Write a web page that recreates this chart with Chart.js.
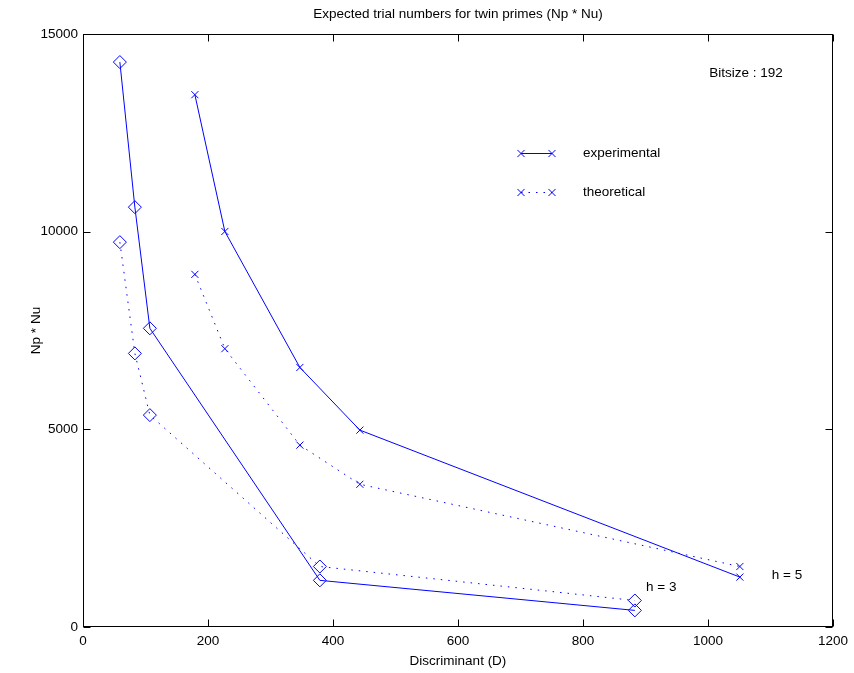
<!DOCTYPE html>
<html>
<head>
<meta charset="utf-8">
<style>
  html, body { margin: 0; padding: 0; background: #fff; }
  canvas { display: block; }
</style>
<script src="https://cdn.jsdelivr.net/npm/chart.js@4/dist/chart.umd.min.js"></script>
</head>
<body>
<canvas id="c" width="854" height="673"></canvas>
<script>
// ---- data ----
const discH3 = [59, 83, 107, 379, 883];
const expH3 = [14290, 10620, 7555, 1180, 420];
const theoH3 = [9735, 6920, 5360, 1530, 670];

const discH5 = [179, 227, 347, 443, 1051];
const expH5 = [13465, 10005, 6565, 4980, 1262];
const theoH5 = [8920, 7040, 4600, 3610, 1530];

const xTicks = [0, 200, 400, 600, 800, 1000, 1200];
const yTicks = [0, 5000, 10000, 15000];

const titleText = 'Expected trial numbers for twin primes (Np * Nu)';
const xTitle = 'Discriminant (D)';
const yTitle = 'Np * Nu';
const legendLabels = ['experimental', 'theoretical'];
const noteText = 'Bitsize : 192';
const hLabels = [{ text: 'h = 3', x: 901, y: 1000 }, { text: 'h = 5', x: 1102, y: 1305 }];

// ---- styling ----
const BLUE = '#0000ff';
const FONT = '"Liberation Sans", Arial, Helvetica, sans-serif';
const FS = 13.5;

function pts(xs, ys) { return xs.map((x, i) => ({ x: x, y: ys[i] })); }

function ds(label, xs, ys, style, dashed, radius) {
  return {
    label: label,
    data: pts(xs, ys),
    showLine: true,
    borderColor: BLUE,
    backgroundColor: 'rgba(0,0,0,0)',
    borderWidth: 1,
    borderDash: dashed ? [1.5, 6] : [],
    pointStyle: style,
    pointRadius: radius,
    pointBorderColor: BLUE,
    pointBackgroundColor: 'rgba(0,0,0,0)',
    pointBorderWidth: 1,
    tension: 0
  };
}

const framePlugin = {
  id: 'frame',
  afterDraw(chart) {
    const ctx = chart.ctx;
    const a = chart.chartArea;
    const xs = chart.scales.x, ys = chart.scales.y;
    ctx.save();
    // frame
    ctx.strokeStyle = '#000';
    ctx.lineWidth = 1;
    ctx.setLineDash([]);
    const L = Math.round(a.left) + 0.5, R = Math.round(a.right) - 0.5;
    const T = Math.round(a.top) + 0.5, B = Math.round(a.bottom) - 0.5;
    ctx.strokeRect(L, T, R - L, B - T);
    // inward ticks
    const TL = 7;
    ctx.beginPath();
    xTicks.forEach(v => {
      const px = Math.round(xs.getPixelForValue(v)) + 0.5;
      ctx.moveTo(px, B); ctx.lineTo(px, B - TL);
      ctx.moveTo(px, T); ctx.lineTo(px, T + TL);
    });
    yTicks.forEach(v => {
      const py = Math.round(ys.getPixelForValue(v)) + 0.5;
      ctx.moveTo(L, py); ctx.lineTo(L + TL, py);
      ctx.moveTo(R, py); ctx.lineTo(R - TL, py);
    });
    ctx.stroke();

    // texts
    ctx.fillStyle = '#000';
    ctx.font = FS + 'px ' + FONT;
    ctx.textBaseline = 'middle';
    ctx.textAlign = 'center';
    const cx = (a.left + a.right) / 2;
    ctx.fillText(titleText, cx, 14);
    ctx.fillText(xTitle, cx, 661);
    ctx.save();
    ctx.translate(36, (a.top + a.bottom) / 2);
    ctx.rotate(-Math.PI / 2);
    ctx.fillText(yTitle, 0, 0);
    ctx.restore();

    ctx.textAlign = 'left';
    ctx.fillText(noteText, xs.getPixelForValue(1002), ys.getPixelForValue(14000));
    hLabels.forEach(h => ctx.fillText(h.text, xs.getPixelForValue(h.x), ys.getPixelForValue(h.y)));

    // legend
    const legY = [153, 192];
    const lx0 = 521, lx1 = 552, tx = 583;
    legendLabels.forEach((lab, i) => {
      ctx.strokeStyle = BLUE;
      ctx.lineWidth = 1;
      ctx.setLineDash(i === 0 ? [] : [1.5, 6]);
      ctx.beginPath();
      ctx.moveTo(lx0, legY[i] + 0.5); ctx.lineTo(lx1, legY[i] + 0.5);
      ctx.stroke();
      ctx.setLineDash([]);
      [lx0, lx1].forEach(x => {
        Chart.helpers.drawPoint(ctx, { pointStyle: 'crossRot', radius: 5, borderWidth: 1, rotation: 0 }, x, legY[i] + 0.5);
      });
      ctx.fillStyle = '#000';
      ctx.fillText(lab, tx, legY[i]);
    });
    ctx.restore();
  }
};

new Chart(document.getElementById('c').getContext('2d'), {
  type: 'scatter',
  data: {
    datasets: [
      ds('experimental h=3', discH3, expH3, 'rectRot', false, 6.5),
      ds('theoretical h=3', discH3, theoH3, 'rectRot', true, 6.5),
      ds('experimental h=5', discH5, expH5, 'crossRot', false, 5),
      ds('theoretical h=5', discH5, theoH5, 'crossRot', true, 5)
    ]
  },
  options: {
    responsive: false,
    animation: false,
    devicePixelRatio: 1,
    layout: { padding: { top: 34, right: 21, left: 0, bottom: 0 } },
    plugins: { legend: { display: false }, tooltip: { enabled: false }, title: { display: false } },
    scales: {
      x: {
        type: 'linear', min: 0, max: 1200,
        afterBuildTicks(s) { s.ticks = xTicks.map(v => ({ value: v })); },
        ticks: { color: '#000', font: { family: FONT, size: FS }, padding: 6, maxRotation: 0, autoSkip: false,
                 callback: v => String(v) },
        grid: { display: false, drawTicks: false },
        border: { display: false },
        afterFit(s) { s.height = 46; }
      },
      y: {
        type: 'linear', min: 0, max: 15000,
        afterBuildTicks(s) { s.ticks = yTicks.map(v => ({ value: v })); },
        ticks: { color: '#000', font: { family: FONT, size: FS }, padding: 5, autoSkip: false,
                 callback: v => String(v) },
        grid: { display: false, drawTicks: false },
        border: { display: false },
        afterFit(s) { s.width = 83; }
      }
    }
  },
  plugins: [framePlugin]
});
</script>
</body>
</html>
